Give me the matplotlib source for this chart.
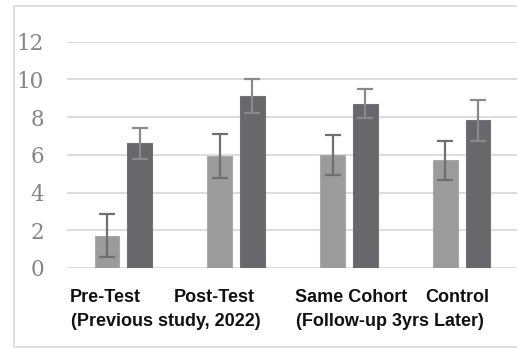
import numpy as np
import matplotlib.pyplot as plt
from matplotlib.patches import Rectangle
import matplotlib.transforms as mtransforms

groups = ["Pre-Test", "Post-Test", "Same Cohort", "Control"]
light_vals = [1.72, 5.94, 5.99, 5.71]
light_err = [1.13, 1.17, 1.05, 1.03]
dark_vals = [6.61, 9.14, 8.71, 7.83]
dark_err = [0.84, 0.90, 0.77, 1.07]
yticks = [0, 2, 4, 6, 8, 10, 12]


def main():
    fig = plt.figure(figsize=(5.17, 3.49), dpi=100)
    fig.patch.set_facecolor("white")

    # light grey frame around the whole chart (cut off on the right)
    fig.patches.append(Rectangle((14 / 517, 1 - 347 / 349), 1.2, (347 - 6) / 349,
                                 transform=fig.transFigure, fill=False,
                                 edgecolor="#d9d9d9", linewidth=1.2))

    ax = fig.add_axes([67 / 517, 1 - 268 / 349, 451 / 517, (268 - 41.7) / 349])
    x = np.arange(len(groups))
    w = 0.22
    off = 0.145

    ax.bar(x - off, light_vals, w, color="#9b9b9d", edgecolor="#a8a8aa",
           linewidth=0.8, zorder=2)
    ax.bar(x + off, dark_vals, w, color="#68686c", edgecolor="#727276",
           linewidth=0.8, zorder=2)
    ax.errorbar(x - off, light_vals, yerr=light_err, fmt="none",
                ecolor="#6f6f72", elinewidth=1.6, capsize=6, capthick=1.6, zorder=3)
    ax.errorbar(x + off, dark_vals, yerr=dark_err, fmt="none",
                ecolor="#8a8a8d", elinewidth=1.6, capsize=6, capthick=1.6, zorder=3)

    ax.set_xlim(-0.5, len(groups) - 0.5)
    ax.set_ylim(0, 12)
    ax.set_yticks(yticks)
    ax.set_yticklabels([str(t) for t in yticks], fontfamily="DejaVu Serif",
                       fontsize=15.5, color="#858585")
    ax.tick_params(axis="y", length=0, pad=16.5)
    ax.set_xticks([])
    ax.grid(axis="y", color="#d9d9d9", linewidth=1.3, zorder=0)
    for s in ax.spines.values():
        s.set_visible(False)

    # category captions under the axis
    trans = mtransforms.blended_transform_factory(ax.transData, fig.transFigure)
    lab = dict(fontfamily="Liberation Sans", fontweight="bold", fontsize=13,
               color="#111111", ha="center", va="center", transform=trans)
    y1 = 1 - 297 / 349
    y2 = 1 - 322 / 349
    ax.text(-0.16, y1, groups[0], **lab)
    ax.text(0.81, y1, groups[1], **lab)
    ax.text(2.02, y1, groups[2], **lab)
    ax.text(2.96, y1, groups[3], **lab)
    ax.text(0.38, y2, "(Previous study, 2022)", **lab)
    ax.text(2.365, y2, "(Follow-up 3yrs Later)", **lab)

    fig.savefig("out.png", dpi=100)


if __name__ == "__main__":
    main()
